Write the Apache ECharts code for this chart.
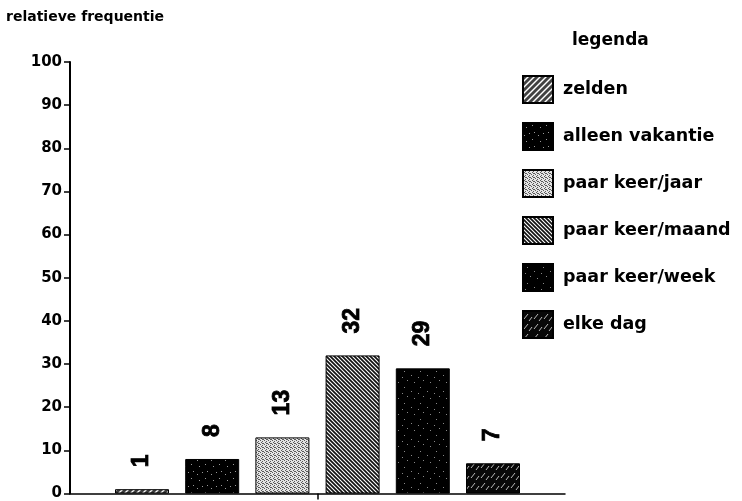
<!DOCTYPE html>
<html>
<head>
<meta charset="utf-8">
<script src="https://cdn.jsdelivr.net/npm/echarts@6/dist/echarts.min.js"></script>
<style>html,body{margin:0;padding:0;background:#fff;}#c{width:742px;height:501px;}</style>
</head>
<body>
<div id="c"></div>
<script>
const categories = ['zelden', 'alleen vakantie', 'paar keer/jaar', 'paar keer/maand', 'paar keer/week', 'elke dag'];
const values = [1, 8, 13, 32, 29, 7];
const yTicks = [0, 10, 20, 30, 40, 50, 60, 70, 80, 90, 100];

function pat(size, draw) {
  const c = document.createElement('canvas');
  c.width = c.height = size;
  const ctx = c.getContext('2d');
  draw(ctx, size);
  return c;
}
function px(ctx, pts, col) { ctx.fillStyle = col; pts.forEach(p => ctx.fillRect(p[0], p[1], 1, 1)); }

const patterns = [
  pat(6, (ctx, s) => { ctx.fillStyle = '#404040'; ctx.fillRect(0,0,s,s); ctx.strokeStyle = '#fff'; ctx.lineWidth = 1.4;
    [[0,s,s,0],[s-1,s+1,s+1,s-1],[-1,1,1,-1]].forEach(l=>{ctx.beginPath();ctx.moveTo(l[0],l[1]);ctx.lineTo(l[2],l[3]);ctx.stroke();}); }),
  pat(14, (ctx, s) => { ctx.fillStyle = '#000'; ctx.fillRect(0,0,s,s); px(ctx, [[3,4],[9,2],[6,10],[11,9],[1,12]], '#999'); }),
  pat(4, (ctx, s) => { ctx.fillStyle = '#e4e4e4'; ctx.fillRect(0,0,s,s); px(ctx, [[0,0],[2,1],[1,2],[3,3],[2,3]], '#5a5a5a'); }),
  pat(4, (ctx, s) => { ctx.fillStyle = '#111'; ctx.fillRect(0,0,s,s); ctx.strokeStyle = '#fff'; ctx.lineWidth = 1.1;
    [[0,0,s,s],[-s,0,0,s],[s,0,2*s,s],[0,-s,s,0],[0,s,s,2*s]].forEach(l=>{ctx.beginPath();ctx.moveTo(l[0],l[1]);ctx.lineTo(l[2],l[3]);ctx.stroke();}); }),
  pat(16, (ctx, s) => { ctx.fillStyle = '#000'; ctx.fillRect(0,0,s,s); px(ctx, [[4,3],[11,7],[7,12],[14,14],[2,9]], '#888'); }),
  pat(10, (ctx, s) => { ctx.fillStyle = '#080808'; ctx.fillRect(0,0,s,s); ctx.strokeStyle = '#bbb'; ctx.lineWidth = 1;
    ctx.beginPath(); ctx.moveTo(1,8); ctx.lineTo(5,3); ctx.stroke(); ctx.beginPath(); ctx.moveTo(6,10); ctx.lineTo(9,6); ctx.stroke(); })
];

const FONT = 'DejaVu Sans';
const chart = echarts.init(document.getElementById('c'), null, { renderer: 'canvas' });

const series = categories.map((name, i) => ({
  name: name,
  type: 'bar',
  data: [values[i]],
  barWidth: 54,
  barGap: '30%',
  itemStyle: { color: { image: patterns[i], repeat: 'repeat' }, borderColor: '#000', borderWidth: 1 },
  label: {
    show: true, position: 'top', rotate: 90, distance: 22, align: 'left', verticalAlign: 'middle',
    color: '#000', fontFamily: 'Liberation Sans', fontWeight: 'bold', fontSize: 23,
    textBorderColor: '#000', textBorderWidth: 0.8
  },
  emphasis: { disabled: true }
}));

chart.setOption({
  animation: false,
  backgroundColor: '#fff',
  title: [
    { text: 'relatieve frequentie', left: 1, top: 5, textStyle: { fontFamily: FONT, fontWeight: 'bold', fontSize: 14, color: '#000' } },
    { text: 'legenda', left: 567, top: 27, textStyle: { fontFamily: FONT, fontWeight: 'bold', fontSize: 17, color: '#000' } }
  ],
  legend: {
    data: categories, orient: 'vertical', left: 517, top: 70,
    itemWidth: 30, itemHeight: 27, itemGap: 18, icon: 'rect',
    textStyle: { fontFamily: FONT, fontWeight: 'bold', fontSize: 17.5, color: '#000', padding: [0, 0, 0, 5] },
    selectedMode: false
  },
  grid: { left: 70, right: 177, top: 62, bottom: 7, containLabel: false },
  xAxis: {
    type: 'category', data: [''],
    axisLine: { lineStyle: { color: '#000', width: 1.5 } },
    axisTick: { show: true, alignWithLabel: true, length: 6, lineStyle: { color: '#000', width: 1.5 } },
    axisLabel: { show: false }
  },
  yAxis: {
    type: 'value', min: yTicks[0], max: yTicks[yTicks.length - 1], interval: 10,
    splitLine: { show: false },
    axisLine: { show: true, lineStyle: { color: '#000', width: 2 } },
    axisTick: { show: true, length: 6, lineStyle: { color: '#000', width: 1.5 } },
    axisLabel: { margin: 8, fontFamily: FONT, fontWeight: 'bold', fontSize: 15, color: '#000' }
  },
  series: series
});
</script>
</body>
</html>
